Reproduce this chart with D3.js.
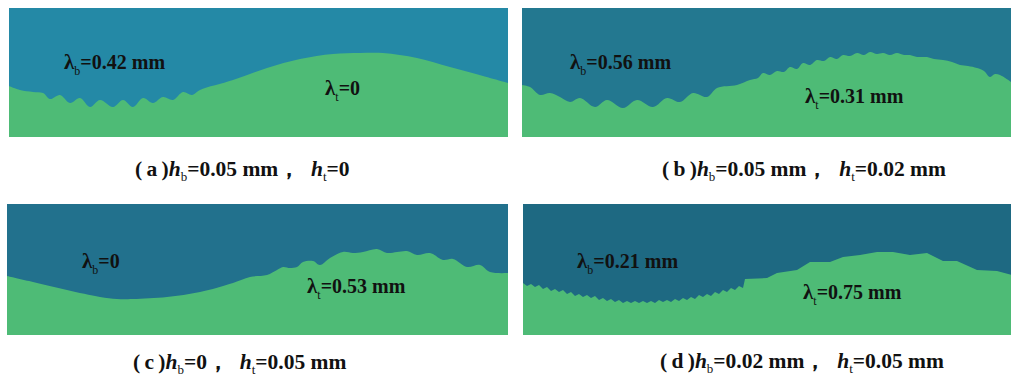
<!DOCTYPE html>
<html>
<head>
<meta charset="utf-8">
<script src="https://cdn.jsdelivr.net/npm/d3@7"></script>
<style>
  body { margin: 0; background: #fff; }
  text { font-family: "Liberation Serif", "Times New Roman", serif; fill: #111; }
</style>
</head>
<body>
<div id="chart"></div>
<script>
const width = 1011;
const height = 378;

// interface height h along x (grid units), one profile per case
const profileA = [[0,51],[11,47],[24,45],[34,44],[41,38],[51,42],[61,34],[71,39],[81,30],[91,37],[104,30],[114,37],[124,30],[134,39],[144,34],[154,40],[164,37],[174,45],[183,42],[191,47],[224,57],[258,69],[291,78],[324,83],[351,84],[374,84],[408,79],[441,70],[474,61],[499,54]];
const profileB = [[0,52],[8,50],[18,42],[28,44],[38,40],[48,35],[58,39],[73,30],[85,37],[101,29],[115,37],[131,30],[145,39],[158,35],[171,44],[185,40],[195,49],[215,52],[228,57],[236,59],[241,64],[248,62],[255,66],[262,65],[268,70],[275,68],[281,74],[288,72],[295,77],[302,76],[308,80],[315,78],[321,82],[328,81],[335,84],[342,82],[348,85],[355,83],[361,84],[368,82],[375,84],[382,82],[388,82],[395,80],[405,80],[412,78],[421,77],[430,75],[438,72],[446,71],[455,69],[462,66],[468,60],[473,63],[478,62],[489,55]];
const profileC = [[0,59],[26,53],[60,45],[93,38],[110,36],[126,36],[160,38],[193,43],[226,52],[243,58],[260,60],[270,65],[276,68],[283,67],[290,68],[296,73],[306,74],[313,70],[323,77],[336,83],[346,82],[356,83],[370,86],[380,82],[390,83],[400,84],[410,80],[423,82],[436,75],[446,76],[460,68],[473,70],[483,63],[501,62]];
const profileD = [[0,52],[4,49],[8,51],[12,48],[16,50],[20,46],[24,48],[28,44],[32,46],[36,43],[40,45],[44,41],[48,43],[52,39],[56,41],[60,38],[64,40],[68,37],[72,39],[76,35],[80,37],[84,34],[88,36],[92,33],[96,35],[100,32],[104,34],[108,32],[112,34],[116,32],[120,34],[124,32],[128,34],[132,32],[136,35],[140,33],[144,35],[148,33],[152,36],[156,34],[160,37],[164,35],[168,38],[172,36],[176,40],[180,38],[184,41],[188,39],[192,43],[196,41],[200,45],[204,43],[208,47],[212,45],[216,49],[220,47],[222,56],[244,57],[254,62],[274,65],[287,73],[307,73],[320,78],[337,80],[354,83],[370,83],[387,80],[404,82],[420,74],[434,74],[454,65],[474,64],[489,60]];

const lambdaB = ["0.42 mm", "0.56 mm", "0", "0.21 mm"];
const lambdaT = ["0", "0.31 mm", "0.53 mm", "0.75 mm"];
const letters = ["a", "b", "c", "d"];
const hB = ["0.05 mm", "0.05 mm", "0", "0.02 mm"];
const hT = ["0", "0.02 mm", "0.05 mm", "0.05 mm"];

const svg = d3.select("#chart")
  .append("svg")
  .attr("width", width)
  .attr("height", height);

const panels = [
  {x: 9,   y: 8,   w: 499, h: 129, fill: "#2489a6", data: profileA, lb: [64, 69],  lt: [325, 95],  cap: [135, 176]},
  {x: 522, y: 8,   w: 489, h: 129, fill: "#237890", data: profileB, lb: [570, 69], lt: [805, 103], cap: [662, 176]},
  {x: 7,   y: 204, w: 501, h: 131, fill: "#22718d", data: profileC, lb: [82, 268], lt: [307, 293], cap: [133, 369]},
  {x: 523, y: 204, w: 488, h: 131, fill: "#1e6982", data: profileD, lb: [577, 268], lt: [803, 299], cap: [660, 368]}
];

function label(g, x, y, sym, sub, val) {
  const t = g.append("text")
    .attr("x", x).attr("y", y)
    .style("font-size", "20px")
    .style("font-weight", "bold");
  t.append("tspan").style("font-size", "21px").text(sym);
  t.append("tspan").attr("dy", 6).style("font-size", "12px").style("font-weight", "normal").text(sub);
  t.append("tspan").attr("dy", -6).text("=" + val);
}

panels.forEach((p, i) => {
  const xScale = d3.scaleLinear().domain([0, p.w]).range([p.x, p.x + p.w]);
  const yScale = d3.scaleLinear().domain([0, p.h]).range([p.y + p.h, p.y]);

  svg.append("rect")
    .attr("x", p.x).attr("y", p.y)
    .attr("width", p.w).attr("height", p.h)
    .attr("fill", p.fill);

  svg.append("path")
    .datum(p.data)
    .attr("fill", "#4ebb76")
    .attr("d", d3.area()
      .x(d => xScale(d[0]))
      .y0(yScale(0))
      .y1(d => yScale(d[1]))
      .curve(i === 3 ? d3.curveLinear : d3.curveCatmullRom.alpha(0.5)));

  label(svg, p.lb[0], p.lb[1], "λ", "b", lambdaB[i]);
  label(svg, p.lt[0], p.lt[1], "λ", "t", lambdaT[i]);

  // caption
  const c = svg.append("text")
    .attr("x", p.cap[0]).attr("y", p.cap[1])
    .style("font-size", "21.5px")
    .style("font-weight", "bold");
  c.append("tspan").text("(\u2009" + letters[i] + "\u2009)");
  c.append("tspan").style("font-style", "italic").text("h");
  c.append("tspan").attr("dy", 5).style("font-size", "13px").style("font-weight", "normal").text("b");
  c.append("tspan").attr("dy", -5).text("=" + hB[i] + "\uFF0C\u2002");
  c.append("tspan").style("font-style", "italic").text("h");
  c.append("tspan").attr("dy", 5).style("font-size", "13px").style("font-weight", "normal").text("t");
  c.append("tspan").attr("dy", -5).text("=" + hT[i]);
});
</script>
</body>
</html>
